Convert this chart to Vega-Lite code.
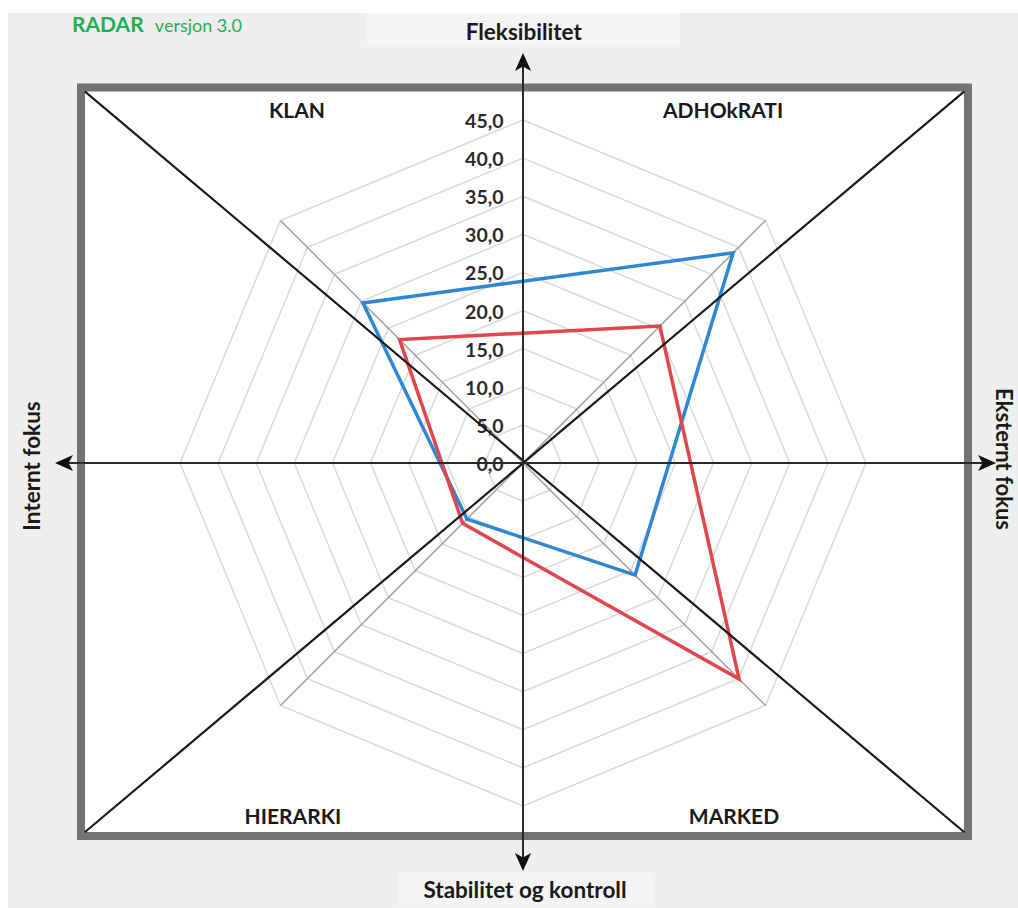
{
  "$schema": "https://vega.github.io/schema/vega-lite/v6.json",
  "width": 1018,
  "height": 908,
  "padding": 0,
  "autosize": {"type": "none"},
  "background": "white",
  "config": {"view": {"stroke": null}, "text": {"font": "Lato"}},
  "datasets": {
    "one": [{}],
    "series": [
      {"serie": "Serie 1", "kategori": "KLAN", "angle": 315, "value": 29.7},
      {"serie": "Serie 1", "kategori": "ADHOkRATI", "angle": 45, "value": 39.0},
      {"serie": "Serie 1", "kategori": "MARKED", "angle": 135, "value": 20.8},
      {"serie": "Serie 1", "kategori": "HIERARKI", "angle": 225, "value": 10.4},
      {"serie": "Serie 2", "kategori": "KLAN", "angle": 315, "value": 22.9},
      {"serie": "Serie 2", "kategori": "ADHOkRATI", "angle": 45, "value": 25.4},
      {"serie": "Serie 2", "kategori": "MARKED", "angle": 135, "value": 40.1},
      {"serie": "Serie 2", "kategori": "HIERARKI", "angle": 225, "value": 11.2}
    ],
    "levels": [
      {"level": 0, "label": "0,0", "spokes": [0, 45, 90, 135, 180, 225, 270, 315]},
      {"level": 5, "label": "5,0", "spokes": [0, 45, 90, 135, 180, 225, 270, 315]},
      {"level": 10, "label": "10,0", "spokes": [0, 45, 90, 135, 180, 225, 270, 315]},
      {"level": 15, "label": "15,0", "spokes": [0, 45, 90, 135, 180, 225, 270, 315]},
      {"level": 20, "label": "20,0", "spokes": [0, 45, 90, 135, 180, 225, 270, 315]},
      {"level": 25, "label": "25,0", "spokes": [0, 45, 90, 135, 180, 225, 270, 315]},
      {"level": 30, "label": "30,0", "spokes": [0, 45, 90, 135, 180, 225, 270, 315]},
      {"level": 35, "label": "35,0", "spokes": [0, 45, 90, 135, 180, 225, 270, 315]},
      {"level": 40, "label": "40,0", "spokes": [0, 45, 90, 135, 180, 225, 270, 315]},
      {"level": 45, "label": "45,0", "spokes": [0, 45, 90, 135, 180, 225, 270, 315]}
    ],
    "spokes": [
      {"angle": 0}, {"angle": 45}, {"angle": 90}, {"angle": 135},
      {"angle": 180}, {"angle": 225}, {"angle": 270}, {"angle": 315}
    ]
  },
  "layer": [
    {
      "data": {"name": "one"},
      "mark": {"type": "rect", "fill": "#efefef"},
      "encoding": {
        "x": {"datum": -67.57, "scale": {"domain": [-68.617, 64.943], "nice": false, "zero": false}, "axis": null},
        "x2": {"datum": 64.943},
        "y": {"datum": 59.04, "scale": {"domain": [-58.384, 60.745], "nice": false, "zero": false}, "axis": null},
        "y2": {"datum": -58.384}
      }
    },
    {
      "data": {"name": "one"},
      "mark": {"type": "rect", "fill": "#f4f4f4"},
      "encoding": {
        "x": {"datum": -20.5, "scale": {"domain": [-68.617, 64.943], "nice": false, "zero": false}, "axis": null},
        "x2": {"datum": 20.6},
        "y": {"datum": 59.04, "scale": {"domain": [-58.384, 60.745], "nice": false, "zero": false}, "axis": null},
        "y2": {"datum": 54.6}
      }
    },
    {
      "data": {"name": "one"},
      "mark": {"type": "rect", "fill": "#f4f4f4"},
      "encoding": {
        "x": {"datum": -16.5, "scale": {"domain": [-68.617, 64.943], "nice": false, "zero": false}, "axis": null},
        "x2": {"datum": 17.3},
        "y": {"datum": -53.8, "scale": {"domain": [-58.384, 60.745], "nice": false, "zero": false}, "axis": null},
        "y2": {"datum": -58.1}
      }
    },
    {
      "data": {"name": "one"},
      "mark": {"type": "rect", "fill": "white", "stroke": "#737373", "strokeWidth": 8},
      "encoding": {
        "x": {"datum": -57.99, "scale": {"domain": [-68.617, 64.943], "nice": false, "zero": false}, "axis": null},
        "x2": {"datum": 58.38},
        "y": {"datum": 49.27, "scale": {"domain": [-58.384, 60.745], "nice": false, "zero": false}, "axis": null},
        "y2": {"datum": -48.94}
      }
    },
    {
      "data": {"name": "levels"},
      "transform": [
        {"filter": "datum.level > 0"},
        {"flatten": ["spokes"], "as": ["spoke"]},
        {"calculate": "datum.level * sin(datum.spoke * PI / 180)", "as": "x"},
        {"calculate": "datum.level * cos(datum.spoke * PI / 180)", "as": "y"}
      ],
      "mark": {"type": "line", "interpolate": "linear-closed", "stroke": "#d9d9d9", "strokeWidth": 1.5},
      "encoding": {
        "x": {"field": "x", "type": "quantitative", "scale": {"domain": [-68.617, 64.943], "nice": false, "zero": false}, "axis": null},
        "y": {"field": "y", "type": "quantitative", "scale": {"domain": [-58.384, 60.745], "nice": false, "zero": false}, "axis": null},
        "detail": {"field": "level", "type": "nominal"},
        "order": {"field": "spoke", "type": "quantitative"}
      }
    },
    {
      "data": {"name": "spokes"},
      "transform": [
        {"calculate": "45 * sin(datum.angle * PI / 180)", "as": "x"},
        {"calculate": "45 * cos(datum.angle * PI / 180)", "as": "y"}
      ],
      "mark": {"type": "rule", "stroke": "#a0a0a0", "strokeWidth": 1.5},
      "encoding": {
        "x": {"field": "x", "type": "quantitative", "scale": {"domain": [-68.617, 64.943], "nice": false, "zero": false}, "axis": null},
        "y": {"field": "y", "type": "quantitative", "scale": {"domain": [-58.384, 60.745], "nice": false, "zero": false}, "axis": null},
        "x2": {"datum": 0},
        "y2": {"datum": 0}
      }
    },
    {
      "data": {"name": "levels"},
      "mark": {"type": "text", "align": "right", "baseline": "middle", "fontSize": 19.5, "fontWeight": "bold", "color": "#2a2a2a", "dy": 2},
      "encoding": {
        "x": {"datum": -2.55, "scale": {"domain": [-68.617, 64.943], "nice": false, "zero": false}, "axis": null},
        "y": {"field": "level", "type": "quantitative", "scale": {"domain": [-58.384, 60.745], "nice": false, "zero": false}, "axis": null},
        "text": {"field": "label"}
      }
    },
    {
      "data": {"name": "series"},
      "transform": [
        {"calculate": "datum.value * sin(datum.angle * PI / 180)", "as": "x"},
        {"calculate": "datum.value * cos(datum.angle * PI / 180)", "as": "y"}
      ],
      "mark": {"type": "line", "interpolate": "linear-closed", "strokeWidth": 3.5},
      "encoding": {
        "x": {"field": "x", "type": "quantitative", "scale": {"domain": [-68.617, 64.943], "nice": false, "zero": false}, "axis": null},
        "y": {"field": "y", "type": "quantitative", "scale": {"domain": [-58.384, 60.745], "nice": false, "zero": false}, "axis": null},
        "color": {"field": "serie", "type": "nominal", "scale": {"domain": ["Serie 1", "Serie 2"], "range": ["#2f87d3", "#e0464c"]}, "legend": null},
        "order": {"field": "angle", "type": "quantitative"}
      }
    },
    {
      "data": {"name": "one"},
      "mark": {"type": "rule", "stroke": "#1a1a1a", "strokeWidth": 2.2},
      "encoding": {
        "x": {"datum": -57.5, "scale": {"domain": [-68.617, 64.943], "nice": false, "zero": false}, "axis": null},
        "y": {"datum": 48.75, "scale": {"domain": [-58.384, 60.745], "nice": false, "zero": false}, "axis": null},
        "x2": {"datum": 57.9},
        "y2": {"datum": -48.45}
      }
    },
    {
      "data": {"name": "one"},
      "mark": {"type": "rule", "stroke": "#1a1a1a", "strokeWidth": 2.2},
      "encoding": {
        "x": {"datum": 57.9, "scale": {"domain": [-68.617, 64.943], "nice": false, "zero": false}, "axis": null},
        "y": {"datum": 48.75, "scale": {"domain": [-58.384, 60.745], "nice": false, "zero": false}, "axis": null},
        "x2": {"datum": -57.5},
        "y2": {"datum": -48.45}
      }
    },
    {
      "data": {"name": "one"},
      "mark": {"type": "rule", "stroke": "#2a2a2a", "strokeWidth": 2},
      "encoding": {
        "x": {"datum": 0, "scale": {"domain": [-68.617, 64.943], "nice": false, "zero": false}, "axis": null},
        "y": {"datum": 52.5, "scale": {"domain": [-58.384, 60.745], "nice": false, "zero": false}, "axis": null},
        "y2": {"datum": -52.2}
      }
    },
    {
      "data": {"name": "one"},
      "mark": {"type": "rule", "stroke": "#2a2a2a", "strokeWidth": 2},
      "encoding": {
        "x": {"datum": -60.1, "scale": {"domain": [-68.617, 64.943], "nice": false, "zero": false}, "axis": null},
        "x2": {"datum": 60.8},
        "y": {"datum": 0, "scale": {"domain": [-58.384, 60.745], "nice": false, "zero": false}, "axis": null}
      }
    },
    {
      "data": {"name": "one"},
      "mark": {"type": "point", "shape": "M0,0 L0.9,2 L0,1.5 L-0.9,2 Z", "filled": true, "size": 324, "color": "#111111", "opacity": 1, "angle": 0},
      "encoding": {
        "x": {"datum": 0, "scale": {"domain": [-68.617, 64.943], "nice": false, "zero": false}, "axis": null},
        "y": {"datum": 53.79, "scale": {"domain": [-58.384, 60.745], "nice": false, "zero": false}, "axis": null}
      }
    },
    {
      "data": {"name": "one"},
      "mark": {"type": "point", "shape": "M0,0 L0.9,2 L0,1.5 L-0.9,2 Z", "filled": true, "size": 324, "color": "#111111", "opacity": 1, "angle": 180},
      "encoding": {
        "x": {"datum": 0, "scale": {"domain": [-68.617, 64.943], "nice": false, "zero": false}, "axis": null},
        "y": {"datum": -53.53, "scale": {"domain": [-58.384, 60.745], "nice": false, "zero": false}, "axis": null}
      }
    },
    {
      "data": {"name": "one"},
      "mark": {"type": "point", "shape": "M0,0 L0.9,2 L0,1.5 L-0.9,2 Z", "filled": true, "size": 324, "color": "#111111", "opacity": 1, "angle": 270},
      "encoding": {
        "x": {"datum": -61.4, "scale": {"domain": [-68.617, 64.943], "nice": false, "zero": false}, "axis": null},
        "y": {"datum": 0, "scale": {"domain": [-58.384, 60.745], "nice": false, "zero": false}, "axis": null}
      }
    },
    {
      "data": {"name": "one"},
      "mark": {"type": "point", "shape": "M0,0 L0.9,2 L0,1.5 L-0.9,2 Z", "filled": true, "size": 324, "color": "#111111", "opacity": 1, "angle": 90},
      "encoding": {
        "x": {"datum": 62.06, "scale": {"domain": [-68.617, 64.943], "nice": false, "zero": false}, "axis": null},
        "y": {"datum": 0, "scale": {"domain": [-58.384, 60.745], "nice": false, "zero": false}, "axis": null}
      }
    },
    {
      "data": {"name": "one"},
      "mark": {"type": "text", "text": "RADAR", "align": "left", "baseline": "alphabetic", "fontSize": 21, "fontWeight": "bold", "color": "#1fae55"},
      "encoding": {
        "x": {"datum": -59.17, "scale": {"domain": [-68.617, 64.943], "nice": false, "zero": false}, "axis": null},
        "y": {"datum": 56.55, "scale": {"domain": [-58.384, 60.745], "nice": false, "zero": false}, "axis": null}
      }
    },
    {
      "data": {"name": "one"},
      "mark": {"type": "text", "text": "versjon 3.0", "align": "left", "baseline": "alphabetic", "fontSize": 18, "fontWeight": "normal", "color": "#1fae55"},
      "encoding": {
        "x": {"datum": -48.3, "scale": {"domain": [-68.617, 64.943], "nice": false, "zero": false}, "axis": null},
        "y": {"datum": 56.55, "scale": {"domain": [-58.384, 60.745], "nice": false, "zero": false}, "axis": null}
      }
    },
    {
      "data": {"name": "one"},
      "mark": {"type": "text", "text": "Fleksibilitet", "align": "center", "baseline": "middle", "fontSize": 22.5, "fontWeight": "bold", "color": "#1a1a1a"},
      "encoding": {
        "x": {"datum": 0.1, "scale": {"domain": [-68.617, 64.943], "nice": false, "zero": false}, "axis": null},
        "y": {"datum": 56.4, "scale": {"domain": [-58.384, 60.745], "nice": false, "zero": false}, "axis": null}
      }
    },
    {
      "data": {"name": "one"},
      "mark": {"type": "text", "text": "Stabilitet og kontroll", "align": "center", "baseline": "middle", "fontSize": 22.5, "fontWeight": "bold", "color": "#1a1a1a"},
      "encoding": {
        "x": {"datum": 0.26, "scale": {"domain": [-68.617, 64.943], "nice": false, "zero": false}, "axis": null},
        "y": {"datum": -56.15, "scale": {"domain": [-58.384, 60.745], "nice": false, "zero": false}, "axis": null}
      }
    },
    {
      "data": {"name": "one"},
      "mark": {"type": "text", "text": "Internt fokus", "align": "center", "baseline": "middle", "angle": 270, "fontSize": 22.5, "fontWeight": "bold", "color": "#1a1a1a"},
      "encoding": {
        "x": {"datum": -64.3, "scale": {"domain": [-68.617, 64.943], "nice": false, "zero": false}, "axis": null},
        "y": {"datum": -0.39, "scale": {"domain": [-58.384, 60.745], "nice": false, "zero": false}, "axis": null}
      }
    },
    {
      "data": {"name": "one"},
      "mark": {"type": "text", "text": "Eksternt fokus", "align": "center", "baseline": "middle", "angle": 90, "fontSize": 22, "fontWeight": "bold", "color": "#1a1a1a"},
      "encoding": {
        "x": {"datum": 63.0, "scale": {"domain": [-68.617, 64.943], "nice": false, "zero": false}, "axis": null},
        "y": {"datum": 0.52, "scale": {"domain": [-58.384, 60.745], "nice": false, "zero": false}, "axis": null}
      }
    },
    {
      "data": {"name": "one"},
      "mark": {"type": "text", "text": "KLAN", "align": "center", "baseline": "middle", "fontSize": 21, "fontWeight": "bold", "color": "#1a1a1a"},
      "encoding": {
        "x": {"datum": -29.65, "scale": {"domain": [-68.617, 64.943], "nice": false, "zero": false}, "axis": null},
        "y": {"datum": 46.05, "scale": {"domain": [-58.384, 60.745], "nice": false, "zero": false}, "axis": null}
      }
    },
    {
      "data": {"name": "one"},
      "mark": {"type": "text", "text": "ADHOkRATI", "align": "center", "baseline": "middle", "fontSize": 21, "fontWeight": "bold", "color": "#1a1a1a"},
      "encoding": {
        "x": {"datum": 26.24, "scale": {"domain": [-68.617, 64.943], "nice": false, "zero": false}, "axis": null},
        "y": {"datum": 46.05, "scale": {"domain": [-58.384, 60.745], "nice": false, "zero": false}, "axis": null}
      }
    },
    {
      "data": {"name": "one"},
      "mark": {"type": "text", "text": "HIERARKI", "align": "center", "baseline": "middle", "fontSize": 21, "fontWeight": "bold", "color": "#1a1a1a"},
      "encoding": {
        "x": {"datum": -30.18, "scale": {"domain": [-68.617, 64.943], "nice": false, "zero": false}, "axis": null},
        "y": {"datum": -46.58, "scale": {"domain": [-58.384, 60.745], "nice": false, "zero": false}, "axis": null}
      }
    },
    {
      "data": {"name": "one"},
      "mark": {"type": "text", "text": "MARKED", "align": "center", "baseline": "middle", "fontSize": 21, "fontWeight": "bold", "color": "#1a1a1a"},
      "encoding": {
        "x": {"datum": 27.68, "scale": {"domain": [-68.617, 64.943], "nice": false, "zero": false}, "axis": null},
        "y": {"datum": -46.58, "scale": {"domain": [-58.384, 60.745], "nice": false, "zero": false}, "axis": null}
      }
    }
  ]
}
